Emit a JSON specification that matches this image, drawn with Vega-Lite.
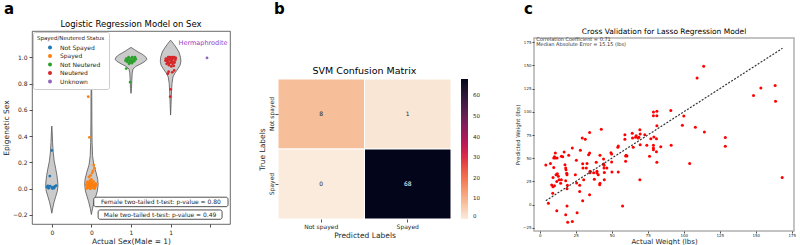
{
  "$schema": "https://vega.github.io/schema/vega-lite/v6.json",
  "padding": {"left": 2, "top": 2, "right": 0, "bottom": 0},
  "background": "white",
  "config": {
    "font": "DejaVu Sans",
    "view": {"stroke": null},
    "axis": {"grid": false, "labelColor": "#262626", "titleColor": "#262626", "tickColor": "#262626", "domainColor": "#262626", "titleFontWeight": "normal", "tickWidth": 0.8},
    "title": {"fontWeight": "bold", "fontSize": 15, "anchor": "start", "color": "black"}
  },
  "datasets": {
    "violin": [
      {"g": 0, "y": -0.188, "lo": 0, "hi": 0},
      {"g": 0, "y": -0.14, "lo": -0.03, "hi": 0.03},
      {"g": 0, "y": -0.10, "lo": -0.06, "hi": 0.06},
      {"g": 0, "y": -0.06, "lo": -0.10, "hi": 0.10},
      {"g": 0, "y": -0.02, "lo": -0.14, "hi": 0.14},
      {"g": 0, "y": 0.02, "lo": -0.155, "hi": 0.155},
      {"g": 0, "y": 0.05, "lo": -0.15, "hi": 0.15},
      {"g": 0, "y": 0.10, "lo": -0.13, "hi": 0.13},
      {"g": 0, "y": 0.15, "lo": -0.10, "hi": 0.10},
      {"g": 0, "y": 0.21, "lo": -0.06, "hi": 0.06},
      {"g": 0, "y": 0.28, "lo": -0.035, "hi": 0.035},
      {"g": 0, "y": 0.35, "lo": -0.02, "hi": 0.02},
      {"g": 0, "y": 0.43, "lo": -0.01, "hi": 0.01},
      {"g": 0, "y": 0.476, "lo": 0, "hi": 0},
      {"g": 1, "y": -0.198, "lo": 1, "hi": 1},
      {"g": 1, "y": -0.15, "lo": 0.97, "hi": 1.03},
      {"g": 1, "y": -0.10, "lo": 0.93, "hi": 1.07},
      {"g": 1, "y": -0.06, "lo": 0.89, "hi": 1.11},
      {"g": 1, "y": -0.02, "lo": 0.85, "hi": 1.15},
      {"g": 1, "y": 0.03, "lo": 0.83, "hi": 1.17},
      {"g": 1, "y": 0.07, "lo": 0.84, "hi": 1.16},
      {"g": 1, "y": 0.12, "lo": 0.88, "hi": 1.12},
      {"g": 1, "y": 0.18, "lo": 0.94, "hi": 1.06},
      {"g": 1, "y": 0.25, "lo": 0.97, "hi": 1.03},
      {"g": 1, "y": 0.35, "lo": 0.982, "hi": 1.018},
      {"g": 1, "y": 0.50, "lo": 0.988, "hi": 1.012},
      {"g": 1, "y": 0.70, "lo": 0.99, "hi": 1.01},
      {"g": 1, "y": 0.90, "lo": 1, "hi": 1},
      {"g": 2, "y": 0.725, "lo": 2, "hi": 2},
      {"g": 2, "y": 0.76, "lo": 1.988, "hi": 2.012},
      {"g": 2, "y": 0.82, "lo": 1.98, "hi": 2.02},
      {"g": 2, "y": 0.88, "lo": 1.97, "hi": 2.03},
      {"g": 2, "y": 0.91, "lo": 1.95, "hi": 2.05},
      {"g": 2, "y": 0.93, "lo": 1.88, "hi": 2.12},
      {"g": 2, "y": 0.95, "lo": 1.75, "hi": 2.25},
      {"g": 2, "y": 0.97, "lo": 1.64, "hi": 2.36},
      {"g": 2, "y": 0.985, "lo": 1.60, "hi": 2.40},
      {"g": 2, "y": 1.00, "lo": 1.62, "hi": 2.38},
      {"g": 2, "y": 1.02, "lo": 1.70, "hi": 2.30},
      {"g": 2, "y": 1.04, "lo": 1.82, "hi": 2.18},
      {"g": 2, "y": 1.06, "lo": 1.92, "hi": 2.08},
      {"g": 2, "y": 1.075, "lo": 2, "hi": 2},
      {"g": 3, "y": 0.56, "lo": 3, "hi": 3},
      {"g": 3, "y": 0.64, "lo": 2.988, "hi": 3.012},
      {"g": 3, "y": 0.72, "lo": 2.98, "hi": 3.02},
      {"g": 3, "y": 0.80, "lo": 2.965, "hi": 3.035},
      {"g": 3, "y": 0.85, "lo": 2.94, "hi": 3.06},
      {"g": 3, "y": 0.88, "lo": 2.89, "hi": 3.11},
      {"g": 3, "y": 0.91, "lo": 2.82, "hi": 3.18},
      {"g": 3, "y": 0.94, "lo": 2.76, "hi": 3.24},
      {"g": 3, "y": 0.97, "lo": 2.74, "hi": 3.26},
      {"g": 3, "y": 1.00, "lo": 2.75, "hi": 3.25},
      {"g": 3, "y": 1.04, "lo": 2.79, "hi": 3.21},
      {"g": 3, "y": 1.07, "lo": 2.85, "hi": 3.15},
      {"g": 3, "y": 1.10, "lo": 2.92, "hi": 3.08},
      {"g": 3, "y": 1.13, "lo": 3, "hi": 3}
    ],
    "pts": [
      {"x": 0.0, "y": 0.29, "status": "Not Spayed"},
      {"x": -0.05, "y": 0.095, "status": "Not Spayed"},
      {"x": -0.12, "y": 0.012, "status": "Not Spayed"},
      {"x": -0.08, "y": 0.002, "status": "Not Spayed"},
      {"x": -0.04, "y": 0.018, "status": "Not Spayed"},
      {"x": 0.0, "y": 0.006, "status": "Not Spayed"},
      {"x": 0.04, "y": 0.01, "status": "Not Spayed"},
      {"x": 0.08, "y": 0.016, "status": "Not Spayed"},
      {"x": 0.11, "y": 0.022, "status": "Not Spayed"},
      {"x": -0.1, "y": 0.02, "status": "Not Spayed"},
      {"x": 0.02, "y": 0.0, "status": "Not Spayed"},
      {"x": 0.06, "y": 0.004, "status": "Not Spayed"},
      {"x": 0.92, "y": 0.70, "status": "Spayed"},
      {"x": 0.95, "y": 0.39, "status": "Spayed"},
      {"x": 1.06, "y": 0.18, "status": "Spayed"},
      {"x": 1.04, "y": 0.135, "status": "Spayed"},
      {"x": 1.02, "y": 0.12, "status": "Spayed"},
      {"x": 0.98, "y": 0.10, "status": "Spayed"},
      {"x": 0.94, "y": 0.088, "status": "Spayed"},
      {"x": 0.96, "y": 0.06, "status": "Spayed"},
      {"x": 1.08, "y": 0.155, "status": "Spayed"},
      {"x": 1.0, "y": 0.07, "status": "Spayed"},
      {"x": 0.88, "y": 0.0, "status": "Spayed"},
      {"x": 0.9, "y": 0.02, "status": "Spayed"},
      {"x": 0.92, "y": 0.04, "status": "Spayed"},
      {"x": 0.94, "y": 0.01, "status": "Spayed"},
      {"x": 0.96, "y": 0.03, "status": "Spayed"},
      {"x": 0.98, "y": 0.0, "status": "Spayed"},
      {"x": 1.0, "y": 0.02, "status": "Spayed"},
      {"x": 1.02, "y": 0.045, "status": "Spayed"},
      {"x": 1.04, "y": 0.01, "status": "Spayed"},
      {"x": 1.06, "y": 0.03, "status": "Spayed"},
      {"x": 1.08, "y": 0.0, "status": "Spayed"},
      {"x": 1.1, "y": 0.02, "status": "Spayed"},
      {"x": 0.9, "y": 0.05, "status": "Spayed"},
      {"x": 0.95, "y": 0.045, "status": "Spayed"},
      {"x": 1.05, "y": 0.055, "status": "Spayed"},
      {"x": 1.1, "y": 0.04, "status": "Spayed"},
      {"x": 0.93, "y": 0.025, "status": "Spayed"},
      {"x": 0.97, "y": 0.015, "status": "Spayed"},
      {"x": 1.01, "y": 0.005, "status": "Spayed"},
      {"x": 1.03, "y": 0.03, "status": "Spayed"},
      {"x": 1.07, "y": 0.015, "status": "Spayed"},
      {"x": 0.91, "y": 0.008, "status": "Spayed"},
      {"x": 0.99, "y": 0.05, "status": "Spayed"},
      {"x": 1.09, "y": 0.01, "status": "Spayed"},
      {"x": 1.12, "y": 0.03, "status": "Spayed"},
      {"x": 0.87, "y": 0.03, "status": "Spayed"},
      {"x": 1.0, "y": 0.035, "status": "Spayed"},
      {"x": 1.04, "y": 0.02, "status": "Spayed"},
      {"x": 0.96, "y": 0.0, "status": "Spayed"},
      {"x": 1.06, "y": 0.005, "status": "Spayed"},
      {"x": 1.88, "y": 0.914, "status": "Not Neutered"},
      {"x": 1.95, "y": 0.95, "status": "Not Neutered"},
      {"x": 1.98, "y": 0.81, "status": "Not Neutered"},
      {"x": 2.02, "y": 0.955, "status": "Not Neutered"},
      {"x": 1.88, "y": 0.99, "status": "Not Neutered"},
      {"x": 1.91, "y": 0.98, "status": "Not Neutered"},
      {"x": 1.94, "y": 1.0, "status": "Not Neutered"},
      {"x": 1.97, "y": 0.975, "status": "Not Neutered"},
      {"x": 2.0, "y": 0.99, "status": "Not Neutered"},
      {"x": 2.03, "y": 1.0, "status": "Not Neutered"},
      {"x": 2.06, "y": 0.98, "status": "Not Neutered"},
      {"x": 2.09, "y": 0.995, "status": "Not Neutered"},
      {"x": 2.12, "y": 0.985, "status": "Not Neutered"},
      {"x": 1.9, "y": 0.965, "status": "Not Neutered"},
      {"x": 1.96, "y": 0.96, "status": "Not Neutered"},
      {"x": 2.04, "y": 0.965, "status": "Not Neutered"},
      {"x": 2.08, "y": 0.97, "status": "Not Neutered"},
      {"x": 1.93, "y": 0.985, "status": "Not Neutered"},
      {"x": 2.0, "y": 0.97, "status": "Not Neutered"},
      {"x": 2.1, "y": 1.0, "status": "Not Neutered"},
      {"x": 1.86, "y": 0.975, "status": "Not Neutered"},
      {"x": 2.95, "y": 0.89, "status": "Neutered"},
      {"x": 3.04, "y": 0.885, "status": "Neutered"},
      {"x": 2.93, "y": 0.875, "status": "Neutered"},
      {"x": 3.09, "y": 0.9, "status": "Neutered"},
      {"x": 3.0, "y": 0.756, "status": "Neutered"},
      {"x": 2.99, "y": 0.70, "status": "Neutered"},
      {"x": 3.02, "y": 0.93, "status": "Neutered"},
      {"x": 2.88, "y": 0.99, "status": "Neutered"},
      {"x": 2.91, "y": 0.97, "status": "Neutered"},
      {"x": 2.94, "y": 1.0, "status": "Neutered"},
      {"x": 2.97, "y": 0.98, "status": "Neutered"},
      {"x": 3.0, "y": 0.995, "status": "Neutered"},
      {"x": 3.03, "y": 0.97, "status": "Neutered"},
      {"x": 3.06, "y": 0.99, "status": "Neutered"},
      {"x": 3.09, "y": 1.0, "status": "Neutered"},
      {"x": 3.12, "y": 0.98, "status": "Neutered"},
      {"x": 2.9, "y": 0.95, "status": "Neutered"},
      {"x": 2.96, "y": 0.94, "status": "Neutered"},
      {"x": 3.05, "y": 0.95, "status": "Neutered"},
      {"x": 3.1, "y": 0.96, "status": "Neutered"},
      {"x": 2.93, "y": 0.96, "status": "Neutered"},
      {"x": 3.0, "y": 0.96, "status": "Neutered"},
      {"x": 3.08, "y": 0.935, "status": "Neutered"},
      {"x": 2.87, "y": 0.975, "status": "Neutered"},
      {"x": 2.98, "y": 1.0, "status": "Neutered"},
      {"x": 3.04, "y": 1.0, "status": "Neutered"},
      {"x": 3.13, "y": 0.995, "status": "Neutered"},
      {"x": 2.92, "y": 0.985, "status": "Neutered"},
      {"x": 3.02, "y": 0.985, "status": "Neutered"},
      {"x": 3.07, "y": 0.965, "status": "Neutered"},
      {"x": 2.95, "y": 0.955, "status": "Neutered"},
      {"x": 3.92, "y": 0.995, "status": "Unknown"}
    ],
    "cm": [
      {"actual": "Not spayed", "pred": "Not spayed", "n": 8},
      {"actual": "Not spayed", "pred": "Spayed", "n": 1},
      {"actual": "Spayed", "pred": "Not spayed", "n": 0},
      {"actual": "Spayed", "pred": "Spayed", "n": 68}
    ],
    "lasso": [
      {"a": 4.2, "p": 42.6}, {"a": 6.0, "p": 1.3}, {"a": 7.4, "p": 44.4}, {"a": 8.3, "p": 21.1},
      {"a": 9.0, "p": 12.1}, {"a": 9.2, "p": 29.3}, {"a": 9.7, "p": 50.2}, {"a": 10.2, "p": 51.6},
      {"a": 10.8, "p": 55.6}, {"a": 9.7, "p": 40.1}, {"a": 10.8, "p": 50.2}, {"a": 12.0, "p": 50.2},
      {"a": 11.3, "p": 32.2}, {"a": 12.2, "p": 33.3}, {"a": 12.9, "p": 30.4}, {"a": 11.8, "p": 25.0},
      {"a": 10.2, "p": 20.3}, {"a": 9.2, "p": 19.3}, {"a": 11.8, "p": -6.6}, {"a": 13.4, "p": 26.8},
      {"a": 14.5, "p": 22.9}, {"a": 15.0, "p": 26.8}, {"a": 15.0, "p": 52.0}, {"a": 15.9, "p": 51.6},
      {"a": 16.9, "p": 56.7}, {"a": 17.5, "p": 43.0}, {"a": 18.0, "p": 39.4}, {"a": 18.2, "p": 37.6},
      {"a": 18.7, "p": 33.7}, {"a": 18.9, "p": 32.2}, {"a": 18.0, "p": 25.7}, {"a": 18.9, "p": 17.1},
      {"a": 18.0, "p": -11.0}, {"a": 18.9, "p": -1.6}, {"a": 20.1, "p": 53.1}, {"a": 19.2, "p": 20.7},
      {"a": 19.4, "p": -19.2}, {"a": 22.6, "p": -18.2}, {"a": 22.6, "p": 61.0}, {"a": 24.7, "p": 32.2},
      {"a": 25.6, "p": 23.2}, {"a": 25.9, "p": -8.8}, {"a": 25.4, "p": 47.7}, {"a": 27.7, "p": 20.7},
      {"a": 27.7, "p": 14.2}, {"a": 28.2, "p": 58.5}, {"a": 29.5, "p": 71.8}, {"a": 29.8, "p": 4.1},
      {"a": 30.0, "p": 39.4}, {"a": 29.8, "p": 44.1}, {"a": 30.5, "p": 26.8}, {"a": 31.6, "p": 70.4},
      {"a": 32.3, "p": 39.4}, {"a": 32.8, "p": 44.4}, {"a": 33.9, "p": 53.8}, {"a": 34.6, "p": 77.6},
      {"a": 34.6, "p": 55.6}, {"a": 34.9, "p": 35.8}, {"a": 34.9, "p": 34.4}, {"a": 34.6, "p": 10.6},
      {"a": 37.4, "p": 34.4}, {"a": 37.9, "p": 27.2}, {"a": 39.2, "p": 45.5}, {"a": 39.7, "p": 35.8},
      {"a": 39.7, "p": 34.0}, {"a": 40.6, "p": 32.2}, {"a": 41.6, "p": 21.4}, {"a": 41.8, "p": 22.9},
      {"a": 41.8, "p": 53.1}, {"a": 42.7, "p": 81.2}, {"a": 44.3, "p": 49.1}, {"a": 44.3, "p": 43.7},
      {"a": 44.6, "p": 42.3}, {"a": 44.6, "p": 39.4}, {"a": 44.8, "p": 34.7}, {"a": 44.8, "p": 26.8},
      {"a": 46.6, "p": 39.4}, {"a": 49.4, "p": 56.0}, {"a": 49.9, "p": 54.5}, {"a": 49.9, "p": 45.9},
      {"a": 50.1, "p": 35.1}, {"a": 54.5, "p": 63.2}, {"a": 54.2, "p": 61.7}, {"a": 54.5, "p": 35.1},
      {"a": 57.5, "p": -1.6}, {"a": 59.1, "p": 75.4}, {"a": 59.1, "p": 70.4}, {"a": 59.6, "p": 52.4},
      {"a": 60.0, "p": 53.1}, {"a": 59.6, "p": 46.6}, {"a": 60.5, "p": 52.4}, {"a": 64.2, "p": 76.8},
      {"a": 64.4, "p": 71.8}, {"a": 64.9, "p": 61.7}, {"a": 66.5, "p": 72.5}, {"a": 66.9, "p": 74.3},
      {"a": 68.3, "p": 71.8}, {"a": 68.8, "p": 72.5}, {"a": 69.5, "p": 80.8}, {"a": 69.7, "p": 76.1},
      {"a": 69.7, "p": 64.6}, {"a": 69.5, "p": 26.8}, {"a": 72.9, "p": 75.4}, {"a": 74.3, "p": 63.9},
      {"a": 76.2, "p": 52.0}, {"a": 77.1, "p": 71.1}, {"a": 78.9, "p": 99.9}, {"a": 81.3, "p": 100.6},
      {"a": 78.9, "p": 95.9}, {"a": 81.3, "p": 95.9}, {"a": 81.3, "p": 85.1}, {"a": 79.2, "p": 72.9},
      {"a": 81.0, "p": 71.1}, {"a": 78.9, "p": 63.9}, {"a": 78.9, "p": 61.0}, {"a": 78.9, "p": 59.2},
      {"a": 81.0, "p": 57.0}, {"a": 81.3, "p": 45.5}, {"a": 84.0, "p": 62.4}, {"a": 91.0, "p": 101.3},
      {"a": 91.2, "p": 63.9}, {"a": 99.0, "p": 85.5}, {"a": 100.0, "p": 95.5}, {"a": 104.1, "p": 44.4},
      {"a": 108.0, "p": 83.3}, {"a": 109.2, "p": 136.6}, {"a": 113.8, "p": 149.2}, {"a": 114.3, "p": 78.3},
      {"a": 128.8, "p": 72.2}, {"a": 128.8, "p": 62.8}, {"a": 148.4, "p": 117.5}, {"a": 153.5, "p": 125.8},
      {"a": 163.4, "p": 128.3}, {"a": 163.7, "p": 111.4}, {"a": 168.3, "p": 29.3}
    ],
    "diag": [{"a": 4.2, "p": 4.2}, {"a": 168.5, "p": 168.5}]
  },
  "resolve": {"scale": {"color": "independent"}},
  "spacing": 26,
  "hconcat": [
    {
      "spacing": 1,
      "resolve": {"scale": {"color": "independent"}},
      "vconcat": [
        {"title": {"text": "a", "offset": 0, "dx": -28}, "width": 1, "height": 1, "data": {"values": []}, "mark": {"type": "point"}, "encoding": {}},
        {
          "width": 198,
          "height": 193,
          "title": {"text": "Logistic Regression Model on Sex", "fontSize": 8.5, "fontWeight": "normal", "anchor": "middle", "offset": 3},
          "view": {"stroke": "#444", "strokeWidth": 0.8},
          "layer": [
            {
              "data": {"name": "violin"},
              "mark": {"type": "area", "orient": "horizontal", "fill": "#cbcbcb", "stroke": "#555", "strokeWidth": 0.8},
              "encoding": {
                "y": {"field": "y", "type": "quantitative", "scale": {"domain": [-0.27, 1.2], "nice": false, "zero": false},
                  "axis": {"title": "Epigenetic Sex", "values": [-0.2, 0, 0.2, 0.4, 0.6, 0.8, 1.0], "labelExpr": "replace(format(datum.value, '.1f'), '-', '\u2212')", "labelFontSize": 6, "titleFontSize": 7.5, "tickSize": 3, "domain": false, "labelPadding": 2, "titlePadding": 2}},
                "x": {"field": "lo", "type": "quantitative", "scale": {"domain": [-0.5, 4.5], "nice": false, "zero": false},
                  "axis": {"title": "Actual Sex(Male = 1)", "values": [0, 1, 2, 3, 4], "labelExpr": "datum.value < 1.5 ? '0' : datum.value < 3.5 ? '1' : ''", "labelFontSize": 6, "titleFontSize": 7.5, "tickSize": 3, "domain": false, "labelPadding": 2, "titlePadding": 2}},
                "x2": {"field": "hi"},
                "detail": {"field": "g"}
              }
            },
            {
              "data": {"name": "pts"},
              "mark": {"type": "circle", "size": 8, "opacity": 1},
              "encoding": {
                "x": {"field": "x", "type": "quantitative",
                  "axis": {"title": "Actual Sex(Male = 1)", "values": [0, 1, 2, 3, 4], "labelExpr": "datum.value < 1.5 ? '0' : datum.value < 3.5 ? '1' : ''", "labelFontSize": 6, "titleFontSize": 7.5, "tickSize": 3, "domain": false, "labelPadding": 2, "titlePadding": 2}},
                "y": {"field": "y", "type": "quantitative",
                  "axis": {"title": "Epigenetic Sex", "values": [-0.2, 0, 0.2, 0.4, 0.6, 0.8, 1.0], "labelExpr": "replace(format(datum.value, '.1f'), '-', '\u2212')", "labelFontSize": 6, "titleFontSize": 7.5, "tickSize": 3, "domain": false, "labelPadding": 2, "titlePadding": 2}},
                "color": {"field": "status", "type": "nominal",
                  "scale": {"domain": ["Not Spayed", "Spayed", "Not Neutered", "Neutered", "Unknown"], "range": ["#1f77b4", "#ff7f0e", "#2ca02c", "#d62728", "#9467bd"]},
                  "legend": {"title": "Spayed/Neutered Status", "orient": "top-left", "offset": 1, "padding": 4, "titleFontSize": 5.5, "titleFontWeight": "normal", "labelFontSize": 6, "symbolType": "circle", "symbolSize": 16, "symbolStrokeWidth": 0, "rowPadding": 2.5, "titlePadding": 3, "strokeColor": "#cccccc", "fillColor": "white", "cornerRadius": 2, "labelOffset": 7, "symbolOffset": 10, "titleColor": "#262626", "labelColor": "#262626"}}
              }
            },
            {
              "data": {"values": [{}]},
              "mark": {"type": "rect", "fill": "white", "stroke": "#262626", "strokeWidth": 0.8, "cornerRadius": 2},
              "encoding": {
                "x": {"datum": 1.06, "type": "quantitative", "axis": {"title": "Actual Sex(Male = 1)", "values": [0, 1, 2, 3, 4], "labelExpr": "datum.value < 1.5 ? '0' : datum.value < 3.5 ? '1' : ''", "labelFontSize": 6, "titleFontSize": 7.5, "tickSize": 3, "domain": false, "labelPadding": 2, "titlePadding": 2}},
                "x2": {"datum": 4.45},
                "y": {"datum": -0.066, "type": "quantitative", "axis": {"title": "Epigenetic Sex", "values": [-0.2, 0, 0.2, 0.4, 0.6, 0.8, 1.0], "labelExpr": "replace(format(datum.value, '.1f'), '-', '\u2212')", "labelFontSize": 6, "titleFontSize": 7.5, "tickSize": 3, "domain": false, "labelPadding": 2, "titlePadding": 2}},
                "y2": {"datum": -0.138}
              }
            },
            {
              "data": {"values": [{}]},
              "mark": {"type": "rect", "fill": "white", "stroke": "#262626", "strokeWidth": 0.8, "cornerRadius": 2},
              "encoding": {
                "x": {"datum": 1.17, "type": "quantitative", "axis": {"title": "Actual Sex(Male = 1)", "values": [0, 1, 2, 3, 4], "labelExpr": "datum.value < 1.5 ? '0' : datum.value < 3.5 ? '1' : ''", "labelFontSize": 6, "titleFontSize": 7.5, "tickSize": 3, "domain": false, "labelPadding": 2, "titlePadding": 2}},
                "x2": {"datum": 4.3},
                "y": {"datum": -0.163, "type": "quantitative", "axis": {"title": "Epigenetic Sex", "values": [-0.2, 0, 0.2, 0.4, 0.6, 0.8, 1.0], "labelExpr": "replace(format(datum.value, '.1f'), '-', '\u2212')", "labelFontSize": 6, "titleFontSize": 7.5, "tickSize": 3, "domain": false, "labelPadding": 2, "titlePadding": 2}},
                "y2": {"datum": -0.234}
              }
            },
            {
              "data": {"values": [{}]},
              "mark": {"type": "text", "fontSize": 6, "color": "#262626", "baseline": "middle", "align": "center"},
              "encoding": {
                "x": {"datum": 2.755, "type": "quantitative", "axis": {"title": "Actual Sex(Male = 1)", "values": [0, 1, 2, 3, 4], "labelExpr": "datum.value < 1.5 ? '0' : datum.value < 3.5 ? '1' : ''", "labelFontSize": 6, "titleFontSize": 7.5, "tickSize": 3, "domain": false, "labelPadding": 2, "titlePadding": 2}},
                "y": {"datum": -0.102, "type": "quantitative", "axis": {"title": "Epigenetic Sex", "values": [-0.2, 0, 0.2, 0.4, 0.6, 0.8, 1.0], "labelExpr": "replace(format(datum.value, '.1f'), '-', '\u2212')", "labelFontSize": 6, "titleFontSize": 7.5, "tickSize": 3, "domain": false, "labelPadding": 2, "titlePadding": 2}},
                "text": {"value": "Female two-tailed t-test: p-value = 0.80"}
              }
            },
            {
              "data": {"values": [{}]},
              "mark": {"type": "text", "fontSize": 6, "color": "#262626", "baseline": "middle", "align": "center"},
              "encoding": {
                "x": {"datum": 2.735, "type": "quantitative", "axis": {"title": "Actual Sex(Male = 1)", "values": [0, 1, 2, 3, 4], "labelExpr": "datum.value < 1.5 ? '0' : datum.value < 3.5 ? '1' : ''", "labelFontSize": 6, "titleFontSize": 7.5, "tickSize": 3, "domain": false, "labelPadding": 2, "titlePadding": 2}},
                "y": {"datum": -0.198, "type": "quantitative", "axis": {"title": "Epigenetic Sex", "values": [-0.2, 0, 0.2, 0.4, 0.6, 0.8, 1.0], "labelExpr": "replace(format(datum.value, '.1f'), '-', '\u2212')", "labelFontSize": 6, "titleFontSize": 7.5, "tickSize": 3, "domain": false, "labelPadding": 2, "titlePadding": 2}},
                "text": {"value": "Male two-tailed t-test: p-value = 0.49"}
              }
            },
            {
              "data": {"values": [{}]},
              "mark": {"type": "text", "fontSize": 6.5, "color": "#9a3cbf", "baseline": "middle", "align": "center"},
              "encoding": {
                "x": {"datum": 3.82, "type": "quantitative", "axis": {"title": "Actual Sex(Male = 1)", "values": [0, 1, 2, 3, 4], "labelExpr": "datum.value < 1.5 ? '0' : datum.value < 3.5 ? '1' : ''", "labelFontSize": 6, "titleFontSize": 7.5, "tickSize": 3, "domain": false, "labelPadding": 2, "titlePadding": 2}},
                "y": {"datum": 1.105, "type": "quantitative", "axis": {"title": "Epigenetic Sex", "values": [-0.2, 0, 0.2, 0.4, 0.6, 0.8, 1.0], "labelExpr": "replace(format(datum.value, '.1f'), '-', '\u2212')", "labelFontSize": 6, "titleFontSize": 7.5, "tickSize": 3, "domain": false, "labelPadding": 2, "titlePadding": 2}},
                "text": {"value": "Hermaphrodite"}
              }
            }
          ]
        }
      ]
    },
    {
      "resolve": {"scale": {"color": "independent"}},
      "spacing": 34,
      "hconcat": [
        {
          "spacing": 48,
          "resolve": {"scale": {"color": "independent"}},
          "vconcat": [
            {"title": {"text": "b", "offset": 0, "dx": -4}, "width": 1, "height": 1, "data": {"values": []}, "mark": {"type": "point"}, "encoding": {}},
            {
              "width": 173,
              "height": 140,
              "title": {"text": "SVM Confusion Matrix", "fontSize": 9.5, "fontWeight": "normal", "anchor": "middle", "offset": 3},
              "data": {"name": "cm"},
              "encoding": {
                "x": {"field": "pred", "type": "nominal", "sort": ["Not spayed", "Spayed"], "scale": {"paddingInner": 0, "paddingOuter": 0},
                  "axis": {"title": "Predicted Labels", "labelAngle": 0, "labelFontSize": 6, "titleFontSize": 7.5, "tickSize": 3, "domain": false, "labelPadding": 1, "titlePadding": 2}},
                "y": {"field": "actual", "type": "nominal", "sort": ["Not spayed", "Spayed"], "scale": {"paddingInner": 0, "paddingOuter": 0},
                  "axis": {"title": "True Labels", "labelAngle": -90, "labelAlign": "center", "labelBaseline": "bottom", "labelFontSize": 6, "titleFontSize": 7.5, "tickSize": 3, "domain": false, "labelPadding": 1, "titlePadding": 2}}
              },
              "layer": [
                {
                  "mark": {"type": "rect", "stroke": "white", "strokeWidth": 1},
                  "encoding": {
                    "color": {"field": "n", "type": "quantitative",
                      "scale": {"domain": [0, 9.71, 19.43, 29.14, 38.86, 48.57, 58.29, 68], "range": ["#faebdd", "#f6b48e", "#f37651", "#e13342", "#ad1759", "#701f57", "#35193e", "#03051a"]},
                      "legend": {"title": null, "orient": "right", "offset": 10, "gradientLength": 140, "gradientThickness": 7, "labelFontSize": 5.5, "values": [0, 10, 20, 30, 40, 50, 60], "gradientStrokeWidth": 0, "labelColor": "#262626", "labelOffset": 5}}
                  }
                },
                {
                  "mark": {"type": "text", "fontSize": 6},
                  "encoding": {
                    "text": {"field": "n", "type": "quantitative"},
                    "color": {"condition": {"test": "datum.n > 34", "value": "white"}, "value": "#262626"}
                  }
                }
              ]
            }
          ]
        },
        {
          "spacing": 9,
          "resolve": {"scale": {"color": "independent"}},
          "vconcat": [
            {"title": {"text": "c", "offset": 0, "dx": -10}, "width": 1, "height": 1, "data": {"values": []}, "mark": {"type": "point"}, "encoding": {}},
            {
              "width": 260,
              "height": 193,
              "title": {"text": "Cross Validation for Lasso Regression Model", "fontSize": 7.5, "fontWeight": "normal", "anchor": "middle", "offset": 2},
              "view": {"stroke": "#b0b0b0", "strokeWidth": 1.5},
              "layer": [
                {
                  "data": {"name": "lasso"},
                  "mark": {"type": "circle", "color": "#ff0000", "opacity": 1, "size": 9},
                  "encoding": {
                    "x": {"field": "a", "type": "quantitative", "scale": {"domain": [-4, 176.5], "nice": false, "zero": false},
                      "axis": {"title": "Actual Weight (lbs)", "values": [0, 25, 50, 75, 100, 125, 150, 175], "labelFontSize": 4, "titleFontSize": 7, "tickSize": 2, "domain": false, "labelPadding": 0, "titlePadding": 0}},
                    "y": {"field": "p", "type": "quantitative", "scale": {"domain": [-28.5, 179.6], "nice": false, "zero": false},
                      "axis": {"title": "Predicted Weight (lbs)", "values": [-25, 0, 25, 50, 75, 100, 125, 150, 175], "labelExpr": "replace(format(datum.value, 'd'), '-', '\u2212')", "labelFontSize": 4, "titleFontSize": 5.5, "tickSize": 2, "domain": false, "labelPadding": 1, "titlePadding": 2}}
                  }
                },
                {
                  "data": {"name": "diag"},
                  "mark": {"type": "line", "color": "#333333", "strokeDash": [2, 1.5], "strokeWidth": 1.2},
                  "encoding": {
                    "x": {"field": "a", "type": "quantitative",
                      "axis": {"title": "Actual Weight (lbs)", "values": [0, 25, 50, 75, 100, 125, 150, 175], "labelFontSize": 4, "titleFontSize": 7, "tickSize": 2, "domain": false, "labelPadding": 0, "titlePadding": 0}},
                    "y": {"field": "p", "type": "quantitative",
                      "axis": {"title": "Predicted Weight (lbs)", "values": [-25, 0, 25, 50, 75, 100, 125, 150, 175], "labelExpr": "replace(format(datum.value, 'd'), '-', '\u2212')", "labelFontSize": 4, "titleFontSize": 5.5, "tickSize": 2, "domain": false, "labelPadding": 1, "titlePadding": 2}}
                  }
                },
                {
                  "data": {"values": [{}]},
                  "mark": {"type": "text", "fontSize": 5, "color": "#333333", "align": "left", "baseline": "middle"},
                  "encoding": {
                    "x": {"datum": -2.4, "type": "quantitative",
                      "axis": {"title": "Actual Weight (lbs)", "values": [0, 25, 50, 75, 100, 125, 150, 175], "labelFontSize": 4, "titleFontSize": 7, "tickSize": 2, "domain": false, "labelPadding": 0, "titlePadding": 0}},
                    "y": {"datum": 178, "type": "quantitative",
                      "axis": {"title": "Predicted Weight (lbs)", "values": [-25, 0, 25, 50, 75, 100, 125, 150, 175], "labelExpr": "replace(format(datum.value, 'd'), '-', '\u2212')", "labelFontSize": 4, "titleFontSize": 5.5, "tickSize": 2, "domain": false, "labelPadding": 1, "titlePadding": 2}},
                    "text": {"value": "Correlation Coefficient = 0.71"}
                  }
                },
                {
                  "data": {"values": [{}]},
                  "mark": {"type": "text", "fontSize": 5, "color": "#333333", "align": "left", "baseline": "middle"},
                  "encoding": {
                    "x": {"datum": -2.4, "type": "quantitative",
                      "axis": {"title": "Actual Weight (lbs)", "values": [0, 25, 50, 75, 100, 125, 150, 175], "labelFontSize": 4, "titleFontSize": 7, "tickSize": 2, "domain": false, "labelPadding": 0, "titlePadding": 0}},
                    "y": {"datum": 173, "type": "quantitative",
                      "axis": {"title": "Predicted Weight (lbs)", "values": [-25, 0, 25, 50, 75, 100, 125, 150, 175], "labelExpr": "replace(format(datum.value, 'd'), '-', '\u2212')", "labelFontSize": 4, "titleFontSize": 5.5, "tickSize": 2, "domain": false, "labelPadding": 1, "titlePadding": 2}},
                    "text": {"value": "Median Absolute Error = 15.15 (lbs)"}
                  }
                }
              ]
            }
          ]
        }
      ]
    }
  ]
}
